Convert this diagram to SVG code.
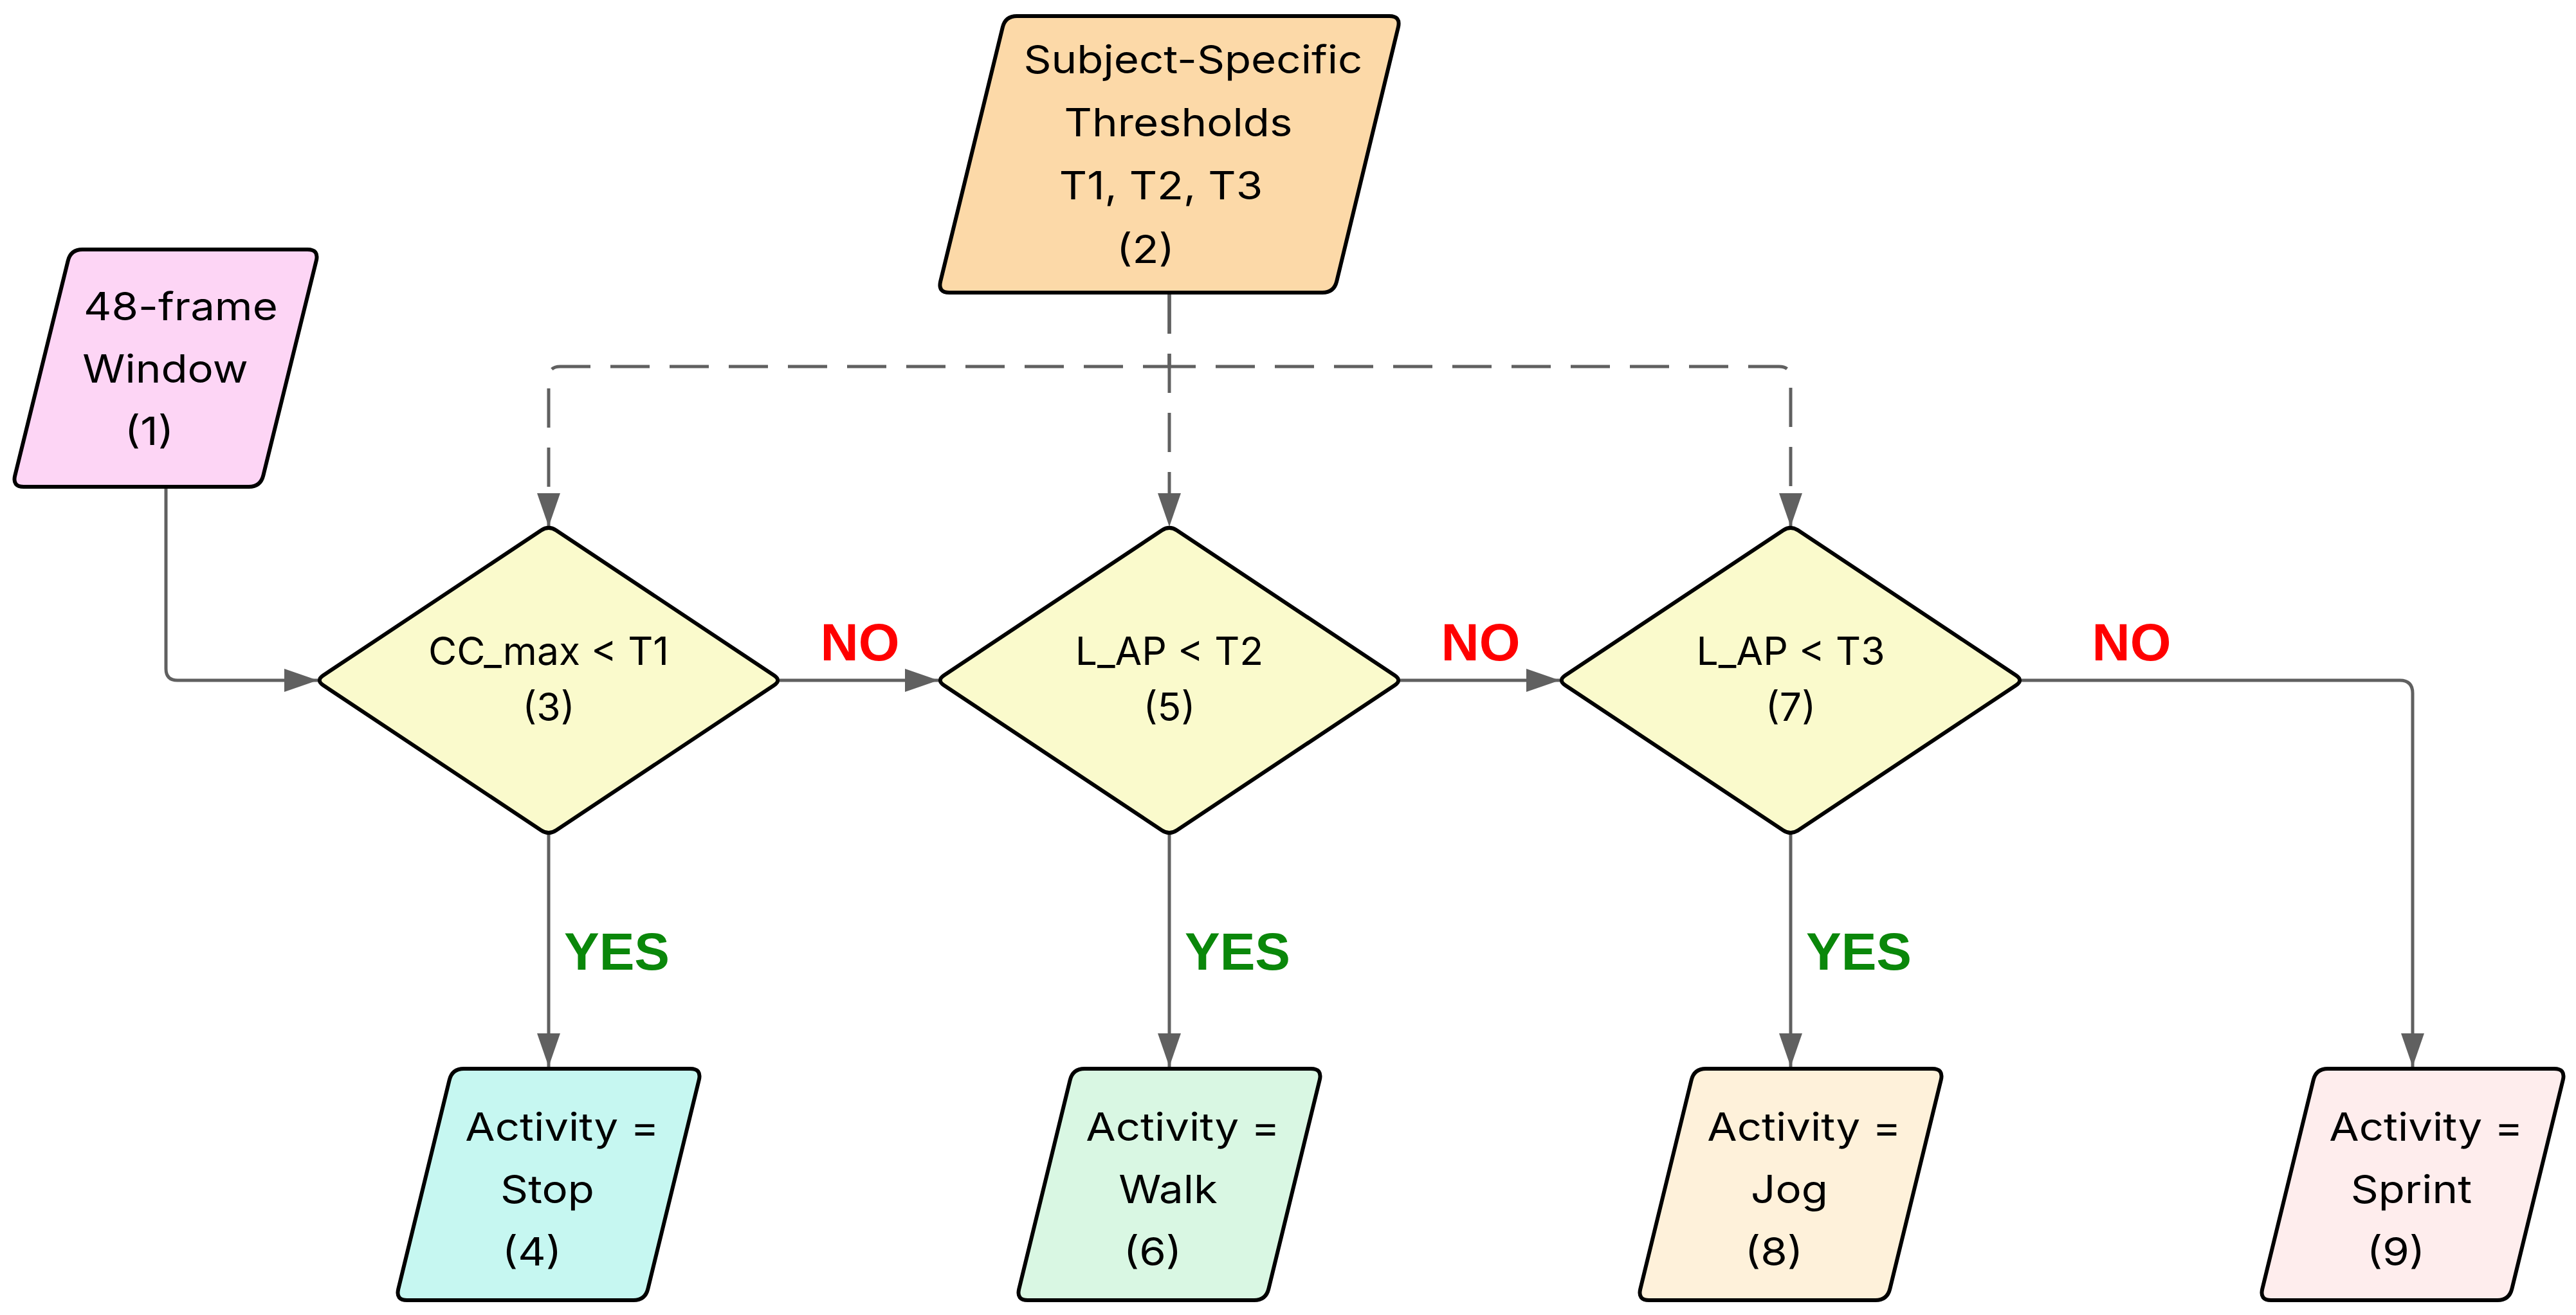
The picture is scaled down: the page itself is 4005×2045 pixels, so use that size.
<svg xmlns="http://www.w3.org/2000/svg" width="4005" height="2045" viewBox="0 0 4005 2045">
<style>
.box{stroke:#000;stroke-width:6;stroke-linejoin:round}
.t{font-family:Inter,"Noto Sans","Liberation Sans",sans-serif;font-size:60px;font-weight:400;fill:#000;text-anchor:middle}
.c{fill:none;stroke:#606060;stroke-width:5}
.d{stroke-dasharray:61 31}
.no{font-family:"Liberation Sans",Arial,sans-serif;font-weight:bold;font-size:82px;fill:#FF0000;text-anchor:middle}
.yes{font-family:"Liberation Sans",Arial,sans-serif;font-weight:bold;font-size:82px;fill:#0A870A;text-anchor:middle}
</style>
<defs>
<marker id="ah" markerUnits="userSpaceOnUse" markerWidth="52" markerHeight="36" refX="52" refY="18" orient="auto">
<path d="M0,0 L52,18 L0,36 Z" fill="#606060"/>
</marker>
<path id="dia" d="M-11.65,-233.24 Q0,-241 11.65,-233.24 L350.35,-7.76 Q362,0 350.35,7.76 L11.65,233.24 Q0,241 -11.65,233.24 L-350.35,7.76 Q-362,0 -350.35,-7.76 Z"/>
<path id="out" d="M-132,1662 L220,1662 Q238,1662 233.7,1679.5 L154.3,2004.5 Q150,2022 132,2022 L-220,2022 Q-238,2022 -233.7,2004.5 L-154.3,1679.5 Q-150,1662 -132,1662 Z"/>
</defs>
<rect width="4005" height="2045" fill="#fff"/>

<g id="connectors">
<path class="c" d="M258,760 L258,1040 Q258,1058 276,1058 L494,1058" marker-end="url(#ah)"/>
<path class="c" d="M1212,1058 L1459,1058" marker-end="url(#ah)"/>
<path class="c" d="M2177,1058 L2425,1058" marker-end="url(#ah)"/>
<path class="c" d="M3143,1058 L3731,1058 Q3751,1058 3751,1078 L3751,1659" marker-end="url(#ah)"/>
<path class="c" d="M853,1297 L853,1659" marker-end="url(#ah)"/>
<path class="c" d="M1818,1297 L1818,1659" marker-end="url(#ah)"/>
<path class="c" d="M2784,1297 L2784,1659" marker-end="url(#ah)"/>
<path class="c d" d="M1818,458 L1818,570 L871,570 Q853,570 853,588 L853,819" marker-end="url(#ah)"/>
<path class="c d" d="M1818,458 L1818,819" marker-end="url(#ah)"/>
<path class="c d" d="M1818,458 L1818,570 L2766,570 Q2784,570 2784,588 L2784,819" marker-end="url(#ah)"/>
<text class="no" x="1337" y="1027">NO</text>
<text class="no" x="2302" y="1027">NO</text>
<text class="no" x="3314" y="1027">NO</text>
<text class="yes" x="959" y="1508">YES</text>
<text class="yes" x="1924" y="1508">YES</text>
<text class="yes" x="2890" y="1508">YES</text>
</g>

<g id="n1">
<path class="box" fill="#FDD5F5" d="M128,388 L478,388 Q496,388 491.7,405.5 L409.3,739.5 Q405,757 387,757 L37,757 Q19,757 23.3,739.5 L105.7,405.5 Q110,388 128,388 Z"/>
<text class="t" transform="translate(281,498) scale(1.12,1)">48-frame</text>
<text class="t" transform="translate(257,595) scale(1.12,1)">Window</text>
<text class="t" transform="translate(232,692) scale(1.12,1)">(1)</text>
</g>

<g id="n2">
<path class="box" fill="#FCD9A8" d="M1581,25 L2160,25 Q2178,25 2173.8,42.5 L2078.2,437.5 Q2074,455 2056,455 L1476,455 Q1458,455 1462.2,437.5 L1558.8,42.5 Q1563,25 1581,25 Z"/>
<text class="t" transform="translate(1855,114) scale(1.12,1)">Subject-Specific</text>
<text class="t" transform="translate(1832,212) scale(1.12,1)">Thresholds</text>
<text class="t" transform="translate(1805,310) scale(1.12,1)">T1, T2, T3</text>
<text class="t" transform="translate(1781,409) scale(1.12,1)">(2)</text>
</g>

<g id="n3" transform="translate(853,1058)">
<use href="#dia" class="box" fill="#FAFACC"/>
<text class="t" transform="translate(0,-24) scale(1.01,1)">CC_max &lt; T1</text>
<text class="t" transform="translate(0,63) scale(1.01,1)">(3)</text>
</g>

<g id="n5" transform="translate(1818,1058)">
<use href="#dia" class="box" fill="#FAFACC"/>
<text class="t" transform="translate(0,-24) scale(1.01,1)">L_AP &lt; T2</text>
<text class="t" transform="translate(0,63) scale(1.01,1)">(5)</text>
</g>

<g id="n7" transform="translate(2784,1058)">
<use href="#dia" class="box" fill="#FAFACC"/>
<text class="t" transform="translate(0,-24) scale(1.01,1)">L_AP &lt; T3</text>
<text class="t" transform="translate(0,63) scale(1.01,1)">(7)</text>
</g>

<g id="n4" transform="translate(853,0)">
<use href="#out" class="box" fill="#C6F7F1"/>
<text class="t" transform="translate(21,1774) scale(1.12,1)">Activity =</text>
<text class="t" transform="translate(-2,1871) scale(1.12,1)">Stop</text>
<text class="t" transform="translate(-26,1968) scale(1.12,1)">(4)</text>
</g>

<g id="n6" transform="translate(1818,0)">
<use href="#out" class="box" fill="#D9F7E3"/>
<text class="t" transform="translate(21,1774) scale(1.12,1)">Activity =</text>
<text class="t" transform="translate(-2,1871) scale(1.12,1)">Walk</text>
<text class="t" transform="translate(-26,1968) scale(1.12,1)">(6)</text>
</g>

<g id="n8" transform="translate(2784,0)">
<use href="#out" class="box" fill="#FEF1DA"/>
<text class="t" transform="translate(21,1774) scale(1.12,1)">Activity =</text>
<text class="t" transform="translate(-2,1871) scale(1.12,1)">Jog</text>
<text class="t" transform="translate(-26,1968) scale(1.12,1)">(8)</text>
</g>

<g id="n9" transform="translate(3751,0)">
<use href="#out" class="box" fill="#FEEDED"/>
<text class="t" transform="translate(21,1774) scale(1.12,1)">Activity =</text>
<text class="t" transform="translate(-2,1871) scale(1.12,1)">Sprint</text>
<text class="t" transform="translate(-26,1968) scale(1.12,1)">(9)</text>
</g>
</svg>
